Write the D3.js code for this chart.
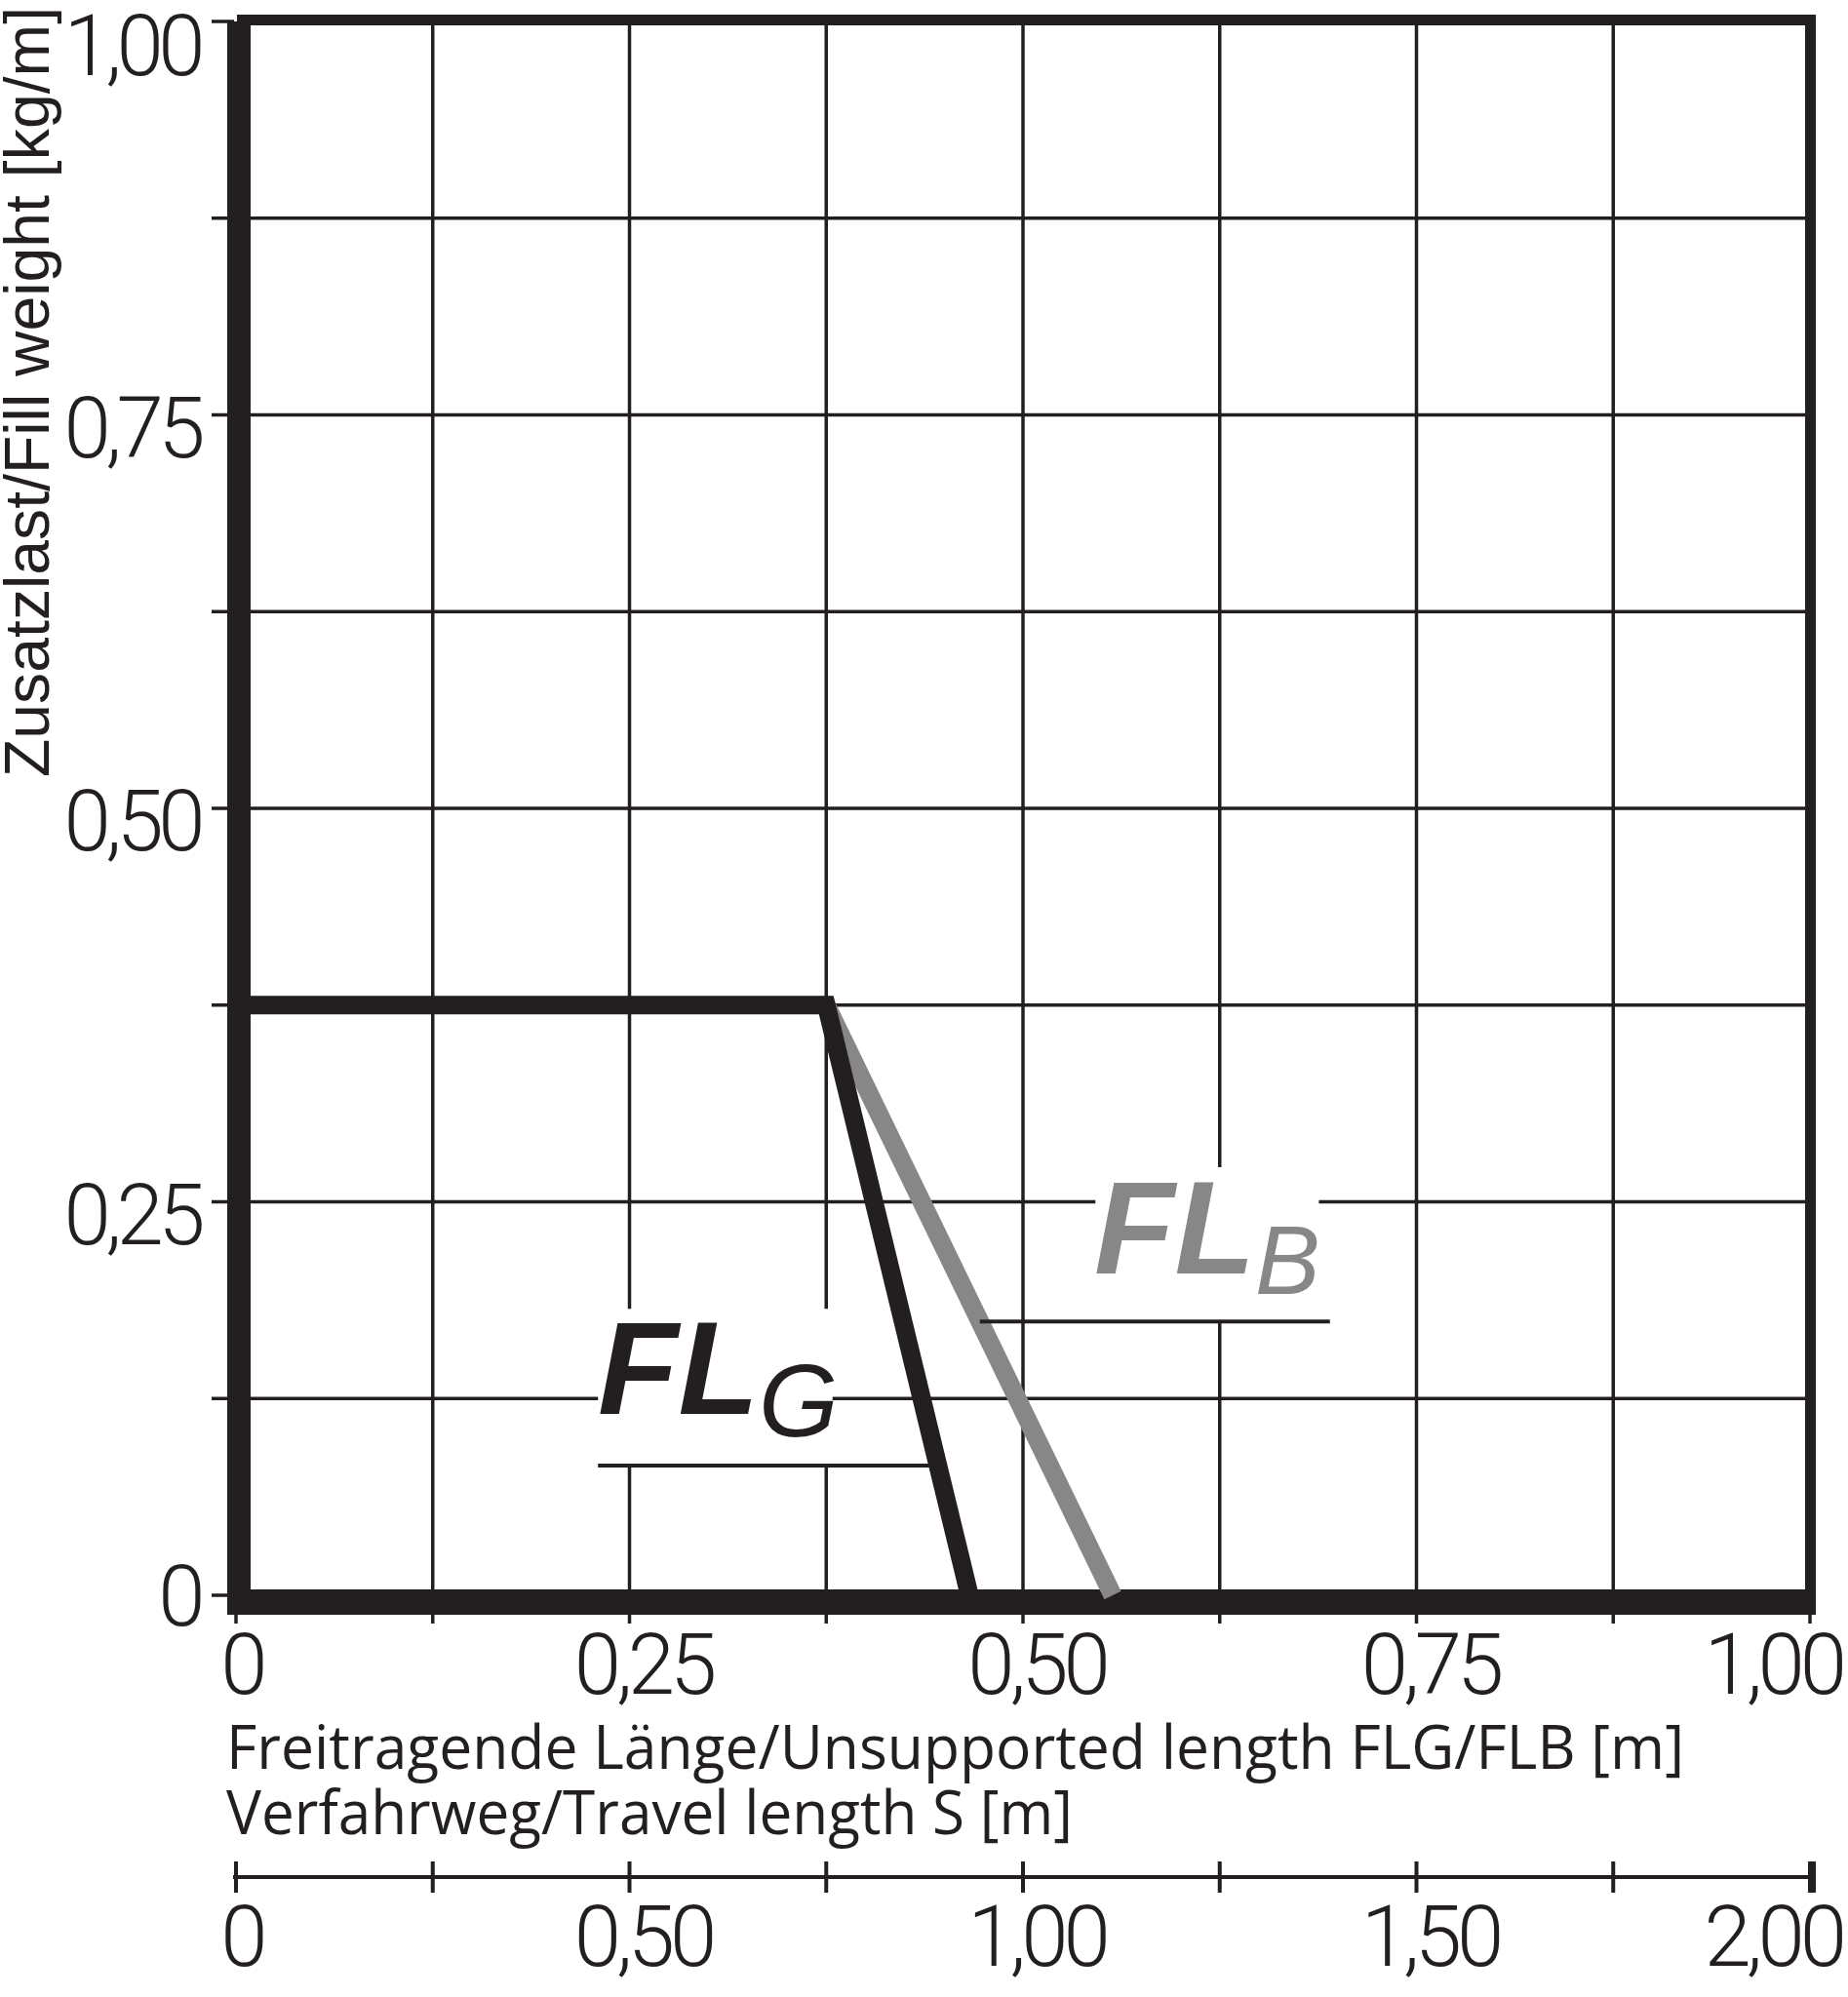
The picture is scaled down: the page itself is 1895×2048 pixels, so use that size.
<!DOCTYPE html>
<html><head><meta charset="utf-8">
<script src="https://cdn.jsdelivr.net/npm/d3@7"></script>
<style>body{margin:0;background:#fff}svg{display:block}</style></head>
<body><svg id="c" width="1895" height="2048"></svg>
<script>
// ---- data ----
const gridValues = [0.125, 0.25, 0.375, 0.5, 0.625, 0.75, 0.875];
const axisTickValues = [0, 0.125, 0.25, 0.375, 0.5, 0.625, 0.75, 0.875, 1];
const yLabelValues = [0, 0.25, 0.5, 0.75, 1];
const yLabelTexts = ["0", "0,25", "0,50", "0,75", "1,00"];
const xLabelValues = [0, 0.25, 0.5, 0.75, 1];
const xLabelTexts = ["0", "0,25", "0,50", "0,75", "1,00"];
const sTickValues = [0, 0.25, 0.5, 0.75, 1, 1.25, 1.5, 1.75, 2];
const sLabelValues = [0, 0.5, 1, 1.5, 2];
const sLabelTexts = ["0", "0,50", "1,00", "1,50", "2,00"];
const flgPoints = [[0, 0.375], [0.375, 0.375], [0.466, 0]];
const flbPoints = [[0.375, 0.375], [0.557, 0]];
const yTitle = "Zusatzlast/Fill weight [kg/m]";
const xTitle1 = "Freitragende Länge/Unsupported length FLG/FLB [m]";
const xTitle2 = "Verfahrweg/Travel length S [m]";

// ---- setup ----
const INK = "#231f20", GRAY = "#878787";
const svg = d3.select("#c");
svg.append("rect").attr("width", 1895).attr("height", 2048).attr("fill", "#fff");
const x = d3.scaleLinear().domain([0, 1]).range([242, 1856]);
const y = d3.scaleLinear().domain([0, 1]).range([1636, 22]);
const s = d3.scaleLinear().domain([0, 2]).range([242, 1856]);
const line = d3.line().x(d => x(d[0])).y(d => y(d[1]));

// grid
const grid = svg.append("g").attr("stroke", INK).attr("stroke-width", 3.5);
grid.selectAll(".gv").data(gridValues).join("line")
  .attr("x1", d => x(d)).attr("x2", d => x(d)).attr("y1", y(1)).attr("y2", y(0));
grid.selectAll(".gh").data(gridValues).join("line")
  .attr("y1", d => y(d)).attr("y2", d => y(d)).attr("x1", x(0)).attr("x2", x(1));

// white masks behind labels
const masks = [
  {x0: 0.23, x1: 0.379, y0: 0.0824, y1: 0.182},
  {x0: 0.546, x1: 0.688, y0: 0.174, y1: 0.272}
];
svg.selectAll(".mask").data(masks).join("rect")
  .attr("x", d => x(d.x0)).attr("width", d => x(d.x1) - x(d.x0))
  .attr("y", d => y(d.y1)).attr("height", d => y(d.y0) - y(d.y1))
  .attr("fill", "#fff");

// ticks on primary axes
const ticks = svg.append("g").attr("stroke", INK).attr("stroke-width", 3.5);
ticks.selectAll(".ty").data(axisTickValues).join("line")
  .attr("x1", 217).attr("x2", 240).attr("y1", d => y(d)).attr("y2", d => y(d));
ticks.selectAll(".tx").data(axisTickValues).join("line")
  .attr("x1", d => x(d)).attr("x2", d => x(d)).attr("y1", 1650).attr("y2", 1665);

// frame
const frame = svg.append("g").attr("stroke", INK).attr("fill", "none");
frame.append("line").attr("x1", 243).attr("x2", 1862).attr("y1", 20.5).attr("y2", 20.5).attr("stroke-width", 11);
frame.append("line").attr("x1", 1856.5).attr("x2", 1856.5).attr("y1", 15).attr("y2", 1656).attr("stroke-width", 11);
frame.append("line").attr("x1", 245).attr("x2", 245).attr("y1", 22).attr("y2", 1656).attr("stroke-width", 24);
frame.append("line").attr("x1", 233).attr("x2", 1862).attr("y1", 1643).attr("y2", 1643).attr("stroke-width", 26);

// curves
svg.append("path").attr("d", line(flbPoints)).attr("fill", "none")
  .attr("stroke", GRAY).attr("stroke-width", 19).attr("stroke-linejoin", "miter");
svg.append("path").attr("d", line(flgPoints)).attr("fill", "none")
  .attr("stroke", INK).attr("stroke-width", 19).attr("stroke-linejoin", "miter");

// leader lines
const leaders = [
  [[0.23, 0.0824], [0.446, 0.0824]],
  [[0.4726, 0.174], [0.695, 0.174]]
];
svg.selectAll(".leader").data(leaders).join("path")
  .attr("d", d => line(d)).attr("stroke", INK).attr("stroke-width", 4).attr("fill", "none");

// curve labels
function curveLabel(px, py, main, sub, color, subSize, subDy) {
  const t = svg.append("text").attr("x", px).attr("y", py)
    .attr("font-family", "'Liberation Sans', Arial, sans-serif")
    .attr("font-style", "italic").attr("fill", color);
  t.append("tspan").attr("font-weight", "bold").attr("font-size", 135).text(main);
  t.append("tspan").attr("font-weight", "normal").attr("font-size", subSize)
    .attr("dy", subDy).text(sub);
}
curveLabel(613, 1450, "FL", "G", INK, 105, 23);
curveLabel(1122, 1306, "FL", "B", GRAY, 100, 21);

// tick labels
const numFont = "Roboto, 'Liberation Sans', sans-serif";
svg.selectAll(".yl").data(yLabelValues).join("text")
  .attr("x", 205).attr("y", d => Math.min(Math.max(y(d) + 43, 77), 1667))
  .attr("text-anchor", "end").attr("font-family", numFont).attr("font-weight", 300)
  .attr("font-size", 87).attr("letter-spacing", -5.5).attr("fill", INK)
  .text((d, i) => yLabelTexts[i]);

function bottomLabels(vals, texts, scale, baseline) {
  svg.selectAll(null).data(vals).join("text")
    .attr("x", (d, i) => scale(d) + (texts[i].length > 1 ? 14 : 6)).attr("y", baseline)
    .attr("text-anchor", "middle").attr("font-family", numFont).attr("font-weight", 300)
    .attr("font-size", 87).attr("letter-spacing", -5).attr("fill", INK)
    .text((d, i) => texts[i])
    .each(function () {
      const b = this.getBBox();
      if (b.x + b.width > 1893) {
        d3.select(this).attr("text-anchor", "end").attr("x", 1889);
      }
    });
}
bottomLabels(xLabelValues, xLabelTexts, x, 1737);

// axis titles
svg.append("text").attr("transform", "translate(50,797) rotate(-90)")
  .attr("font-family", "'Liberation Sans', Arial, sans-serif").attr("font-size", 65)
  .attr("fill", INK).attr("textLength", 790).attr("lengthAdjust", "spacingAndGlyphs")
  .text(yTitle);
svg.append("text").attr("x", 232).attr("y", 1814)
  .attr("font-family", "'Open Sans', 'Noto Sans', sans-serif").attr("font-size", 62)
  .attr("fill", INK).attr("textLength", 1495).attr("lengthAdjust", "spacingAndGlyphs")
  .text(xTitle1);
svg.append("text").attr("x", 232).attr("y", 1881)
  .attr("font-family", "'Open Sans', 'Noto Sans', sans-serif").attr("font-size", 62)
  .attr("fill", INK).attr("textLength", 868).attr("lengthAdjust", "spacingAndGlyphs")
  .text(xTitle2);

// secondary travel axis
const sAxis = svg.append("g").attr("stroke", INK).attr("stroke-width", 4);
sAxis.append("line").attr("x1", s(0) - 3).attr("x2", s(2) + 4).attr("y1", 1925).attr("y2", 1925);
sAxis.selectAll(".st").data(sTickValues).join("line")
  .attr("x1", d => s(d)).attr("x2", d => s(d)).attr("y1", 1909).attr("y2", 1941);
sAxis.append("line").attr("x1", s(2) + 4).attr("x2", s(2) + 4).attr("y1", 1909).attr("y2", 1941);
bottomLabels(sLabelValues, sLabelTexts, s, 2016);
</script></body></html>
